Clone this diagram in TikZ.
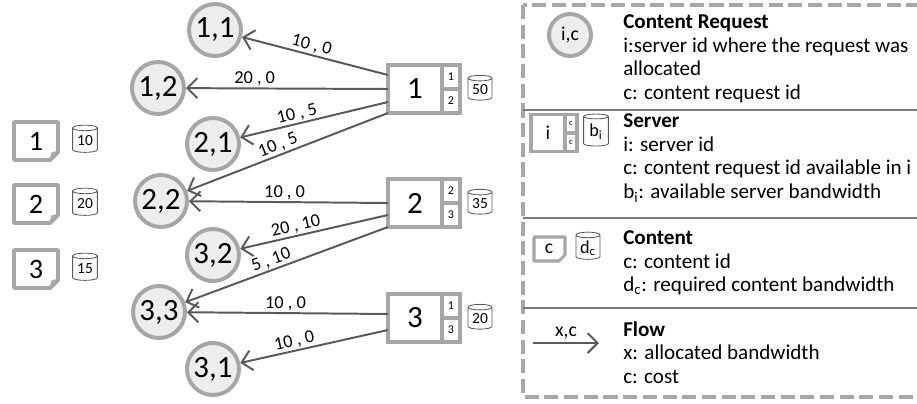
\documentclass[tikz,border=0pt]{standalone}
\usepackage{fontspec}
\setmainfont{Carlito}
\usetikzlibrary{arrows.meta}
\usetikzlibrary{shapes.geometric}
\usetikzlibrary{positioning}
\definecolor{frame}{HTML}{A6A6A6}
\definecolor{reqfill}{HTML}{EDEDED}
\definecolor{flowgray}{HTML}{595959}
\tikzset{request/.style = {circle, draw=frame, line width=2.8pt, fill=reqfill,
                           minimum size=1.3cm, inner sep=0pt,
                           font=\fontsize{22}{22}\selectfont},
         server/.style = {rectangle, draw=frame, line width=2.8pt, outer sep=0pt,
                          minimum width=1.35cm, minimum height=1.2cm, inner sep=0pt,
                          font=\fontsize{22}{22}\selectfont},
         cell/.style = {rectangle, draw=frame, line width=2.8pt, outer sep=0pt,
                        minimum width=0.45cm, minimum height=0.6cm, inner sep=0pt,
                        font=\fontsize{8.5}{8.5}\selectfont},
         disk/.style = {cylinder, shape border rotate=90, draw=flowgray, line width=0.6pt,
                        fill=white, aspect=0.3, minimum width=0.62cm, minimum height=0.68cm,
                        inner sep=1pt, font=\fontsize{11}{11}\selectfont},
         note/.style = {draw=frame, line width=2.8pt, line join=round, fill=white},
         flow/.style = {draw=flowgray, line width=1.4pt,
                        -{Straight Barb[length=2.5mm, width=5mm]}},
         cost/.style = {sloped, above, inner sep=1pt, font=\fontsize{13}{13}\selectfont},
         legend/.style = {anchor=north west, align=left, inner sep=0pt,
                          font=\fontsize{15}{17}\selectfont}}
\begin{document}
\begin{tikzpicture}[x=0.025cm, y=-0.025cm]
  \useasboundingbox (0,0) rectangle (917,403);
  \clip (0,0) rectangle (917,403);

  % contents
  \foreach \c/\y/\d in {1/141/10, 2/204/20, 3/269/15} {
    \draw [note] (14,\y-19) -- (58,\y-19) -- (58,\y+11) -- (50,\y+19) -- (14,\y+19) -- cycle;
    \draw [frame, line width=1pt] (51,\y+17) -- (52,\y+12) -- (57,\y+11);
    \node [font=\fontsize{20}{20}\selectfont] (c\c) at (36,\y) {\c};
    \node [disk] (dc\c) at (85,\y) {\d};
  }

  % servers
  \foreach \s/\y/\a/\b/\d in {1/89/1/2/50, 2/203/2/3/35, 3/318/1/3/20} {
    \node [server] (s\s) at (415,\y) {\s};
    \node [cell, anchor=south west] (ca\s) at (s\s.east) {\a};
    \node [cell, anchor=north west] (cb\s) at (s\s.east) {\b};
    \node [disk, minimum width=0.6cm, minimum height=0.62cm] (ds\s) at (480,\y+1) {\d};
  }

  % requests
  \node [request] (r11) at (215,30) {1,1};
  \node [request] (r12) at (158,88) {1,2};
  \node [request] (r21) at (213,144) {2,1};
  \node [request] (r22) at (161,201) {2,2};
  \node [request] (r32) at (213,255) {3,2};
  \node [request] (r33) at (159,312) {3,3};
  \node [request] (r31) at (213,369) {3,1};

  % flows
  \draw [flow] ([yshift=0.35cm]s1.west) -- node [cost, pos=0.54] {10 , 0} (r11);
  \draw [flow] (s1.west) -- node [cost, pos=0.66] {20 , 0} (r12);
  \draw [flow] ([yshift=-0.325cm]s1.west) -- node [cost, pos=0.6] {10 , 5} (r21);
  \draw [flow] (s1.south west) -- node [cost, pos=0.53] {10 , 5} (r22);
  \draw [flow] (s2.west) -- node [cost, pos=0.52] {10 , 0} (r22);
  \draw [flow] ([yshift=-0.3cm]s2.west) -- node [cost, pos=0.61] {20 , 10} (r32);
  \draw [flow] (s2.south west) -- node [cost, pos=0.56] {5 , 10} (r33);
  \draw [flow] ([yshift=0.1cm]s3.west) -- node [cost, pos=0.51] {10 , 0} (r33);
  \draw [flow] ([yshift=-0.3cm]s3.west) -- node [cost, pos=0.62] {10 , 0} (r31);

  % legend
  \draw [frame, line width=2.8pt, dash pattern=on 10pt off 4pt] (523,5) rectangle (940,397);
  \draw [flowgray!80, line width=0.9pt] (523,110) -- (940,110);
  \draw [flowgray!80, line width=0.9pt] (523,218) -- (940,218);
  \draw [flowgray!80, line width=0.9pt] (523,308) -- (940,308);

  \node [request, minimum size=1.05cm, font=\fontsize{14}{14}\selectfont] (lr) at (570,35) {i,c};
  \node [legend] (lt1) at (623,14) {\textbf{Content Request}\\i:server id where the request was\\allocated\\c: content request id};

  \node [server, line width=2.2pt, minimum width=0.85cm, minimum height=0.92cm,
         font=\fontsize{14}{14}\selectfont] (ls) at (548,133) {i};
  \node [cell, line width=2.2pt, minimum width=0.3cm, minimum height=0.46cm,
         font=\fontsize{6}{6}\selectfont, anchor=south west] (lca) at (ls.east) {c};
  \node [cell, line width=2.2pt, minimum width=0.3cm, minimum height=0.46cm,
         font=\fontsize{6}{6}\selectfont, anchor=north west] (lcb) at (ls.east) {c};
  \node [disk, minimum width=0.62cm, minimum height=0.8cm, font=\fontsize{13}{13}\selectfont] (lds) at (596,132) {b\textsubscript{i}};
  \node [legend] (lt2) at (623,113) {\textbf{Server}\\i: server id\\c: content request id available in i\\b\textsubscript{i}: available server bandwidth};

  \draw [note, line width=2.2pt] (534,237) -- (565,237) -- (565,255) -- (559,261) -- (534,261) -- cycle;
  \node [font=\fontsize{14}{14}\selectfont] (lc) at (549,249) {c};
  \node [disk, minimum width=0.6cm, minimum height=0.68cm, font=\fontsize{13}{13}\selectfont] (ldc) at (588,248) {d\textsubscript{c}};
  \node [legend] (lt3) at (623,230) {\textbf{Content}\\c: content id\\d\textsubscript{c}: required content bandwidth};

  \coordinate (fa) at (533,343);
  \coordinate (fb) at (599,343);
  \draw [flow] (fa) -- node [above, inner sep=2pt, font=\fontsize{14}{14}\selectfont] (lf) {x,c} (fb);
  \node [legend] (lt4) at (623,321) {\textbf{Flow}\\x: allocated bandwidth\\c: cost};
\end{tikzpicture}
\end{document}
